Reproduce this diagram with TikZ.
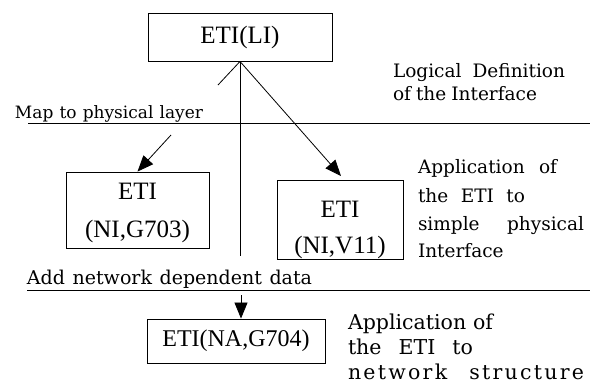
\documentclass[tikz,border=0pt]{standalone}
\usepackage{fontspec}
\setmainfont{Liberation Serif}
\newfontfamily\txt{DejaVu Serif}
\newfontfamily\txtwide{DejaVu Serif}[LetterSpace=11]
\usetikzlibrary{arrows.meta}
\newcommand\fs[2]{\fontsize{#1}{#2}\selectfont}
\newcommand\fitw[2]{\makebox[#1pt][s]{#2}}
\tikzset{
  box/.style={draw, line width=0.9pt, inner sep=0pt, align=center},
  lbl/.style={anchor=base west, inner sep=0pt, outer sep=0pt},
  rulel/.style={line width=0.9pt},
  conn/.style={line width=0.8pt},
  arr/.style={conn, -{Triangle[length=16pt,width=13pt]}},
}
\begin{document}
\begin{tikzpicture}[x=1pt,y=-1pt]
\useasboundingbox (0,0) rectangle (590,386);
\fill[white] (0,0) rectangle (590,386);

% boxes
\node[box, minimum width=184pt, minimum height=48pt, font=\fs{25}{30}] (li) at (240,37) {ETI(LI)};
\node[box, minimum width=143pt, minimum height=76pt, font=\fs{25}{38}] (g703) at (137.5,210) {\rule{0pt}{23pt}ETI\\(NI,G703)};
\node[box, minimum width=126pt, minimum height=76pt, font=\fs{25}{36}] (v11) at (340,220) {\rule{0pt}{37pt}ETI\\(NI,V11)};
\node[box, minimum width=178pt, minimum height=44pt, font=\fs{24}{30}] (g704) at (236,341) {ETI(NA,G704)};

% rules
\coordinate (r1a) at (28,123);
\coordinate (r1b) at (590,123);
\coordinate (r2a) at (27,290);
\coordinate (r2b) at (590,290);
\draw[rulel] (r1a) -- (r1b);
\draw[rulel] (r2a) -- (r2b);

% connectors
\coordinate (vend) at (240,256);
\draw[conn] (li.south) -- (vend);
\coordinate (vtip) at (341,176);
\draw[arr] (li.south) -- (vtip);
\coordinate (lb1) at (218,85);
\draw[conn] (li.south) -- (lb1);
\coordinate (lb2) at (171,135);
\draw[arr] (lb2) -- (g703.north);
\coordinate (db) at (241,295);
\draw[arr] (db) -- (db |- g704.north);

% labels
\node[lbl, font=\fs{17}{20}\txt] (map) at (15,118) {\fitw{188}{Map to physical layer}};
\node[lbl, font=\fs{18.5}{24}\txt] (ld1) at (393,77) {\fitw{172}{Logical Definition}};
\node[lbl, font=\fs{18.5}{24}\txt] (ld2) at (393,100) {\fitw{144}{of the Interface}};
\node[lbl, font=\fs{19}{26}\txt] (add) at (27,284) {\fitw{285}{Add network dependent data}};

\node[lbl, font=\fs{18.5}{26}\txt] (m1) at (418,173) {\fitw{139}{Application of}};
\node[lbl, font=\fs{18.5}{26}\txt] (m2) at (418,202) {\fitw{107}{the ETI to}};
\node[lbl, font=\fs{18.5}{26}\txt] (m3) at (418,230) {\fitw{166}{simple physical}};
\node[lbl, font=\fs{18.5}{26}\txt] (m4) at (418,257) {Interface};

\node[lbl, font=\fs{20.5}{28}\txt] (b1) at (348,329) {\fitw{145}{Application of}};
\node[lbl, font=\fs{20.5}{28}\txt] (b2) at (348,354) {\fitw{125}{the ETI to}};
\node[lbl, font=\fs{20.5}{28}\txtwide] (b3) at (348,379) {\fitw{236}{network structure}};
\end{tikzpicture}
\end{document}
